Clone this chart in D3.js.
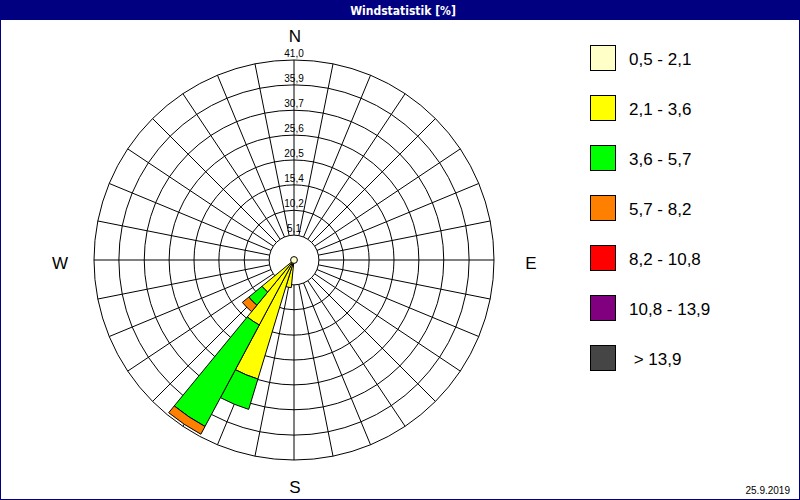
<!DOCTYPE html>
<html>
<head>
<meta charset="utf-8">
<script src="https://cdn.jsdelivr.net/npm/d3@7"></script>
<style>
  body { margin: 0; background: #fff; }
  svg { display: block; }
</style>
</head>
<body>
<svg id="chart" width="800" height="500"></svg>
<script>
// sectors (bearing of sector centre, 32 directions) that carry wind
const sectorDeg = [191.25, 202.5, 213.75, 225];
const sectorWidth = 11.25;

// percent per speed class and sector
const cls1 = [0.5, 0.5, 0.5, 0.5];   // 0,5 - 2,1
const cls2 = [5.2, 25.0, 14.6, 8.0]; // 2,1 - 3,6
const cls3 = [0, 6.5, 23.6, 3.5];    // 3,6 - 5,7
const cls4 = [0, 0, 1.8, 1.7];       // 5,7 - 8,2
const cls5 = [0, 0, 0, 0];           // 8,2 - 10,8
const cls6 = [0, 0, 0, 0];           // 10,8 - 13,9
const cls7 = [0, 0, 0, 0];           // > 13,9
const calm = 0.7;

const classLabels = ["0,5 - 2,1", "2,1 - 3,6", "3,6 - 5,7", "5,7 - 8,2", "8,2 - 10,8", "10,8 - 13,9", " > 13,9"];
const classColors = ["#ffffc8", "#ffff00", "#00ff00", "#ff8000", "#ff0000", "#800080", "#454545"];

const ringTicks = [5.1, 10.2, 15.4, 20.5, 25.6, 30.7, 35.9, 41.0];
const compass = [["N", 0], ["E", 90], ["S", 180], ["W", 270]];

const svg = d3.select("#chart");
const cx = 294, cy = 260, R = 200;
const font = "'Liberation Sans', Arial, sans-serif";

// frame and title bar
svg.append("rect").attr("x", 0.5).attr("y", 0.5).attr("width", 799).attr("height", 499)
  .attr("fill", "#fff").attr("stroke", "#000080");
svg.append("rect").attr("x", 0).attr("y", 0).attr("width", 800).attr("height", 20).attr("fill", "#000080");
svg.append("text").attr("x", 403).attr("y", 15).attr("text-anchor", "middle")
  .attr("fill", "#fff").attr("font-family", "'Liberation Sans Narrow', 'DejaVu Sans Condensed', sans-serif")
  .attr("font-weight", "bold").attr("font-size", 12).text("Windstatistik [%]");

let r = d3.scaleLinear().domain([0, 41]).range([0, R]);
let rose = svg.append("g").attr("transform", `translate(${cx},${cy})`);

// grid
let r0 = r(ringTicks[0]);
rose.selectAll("line.spoke").data(d3.range(0, 360, sectorWidth)).join("line")
  .attr("class", "spoke")
  .attr("x1", d => r0 * Math.sin(d * Math.PI / 180))
  .attr("y1", d => -r0 * Math.cos(d * Math.PI / 180))
  .attr("x2", d => R * Math.sin(d * Math.PI / 180))
  .attr("y2", d => -R * Math.cos(d * Math.PI / 180))
  .attr("stroke", "#000").attr("stroke-width", 1);
rose.selectAll("circle.ring").data(ringTicks).join("circle")
  .attr("class", "ring").attr("r", d => r(d))
  .attr("fill", "none").attr("stroke", "#000").attr("stroke-width", 1);

// wedges
let classes = [cls1, cls2, cls3, cls4, cls5, cls6, cls7];
let arc = d3.arc();
sectorDeg.forEach((deg, i) => {
  let acc = 0;
  classes.forEach((cls, k) => {
    let v = cls[i];
    if (!v) return;
    let a0 = (deg - sectorWidth / 2) * Math.PI / 180;
    let a1 = (deg + sectorWidth / 2) * Math.PI / 180;
    rose.append("path")
      .attr("d", arc({ innerRadius: r(acc), outerRadius: r(acc + v), startAngle: a0, endAngle: a1 }))
      .attr("fill", classColors[k]).attr("stroke", "#000").attr("stroke-width", 1);
    acc += v;
  });
});
rose.append("circle").attr("r", r(calm)).attr("fill", classColors[0]).attr("stroke", "#000");

// ring labels
rose.selectAll("text.tick").data(ringTicks).join("text")
  .attr("class", "tick").attr("x", 0).attr("y", d => -r(d) - 3)
  .attr("text-anchor", "middle").attr("font-family", font).attr("font-size", 10)
  .text(d => d.toFixed(1).replace(".", ","));

// compass labels
let off = { N: [1, -218], S: [1, 233], W: [-234, 9], E: [237, 9] };
rose.selectAll("text.dir").data(compass).join("text")
  .attr("class", "dir")
  .attr("x", d => off[d[0]][0]).attr("y", d => off[d[0]][1])
  .attr("text-anchor", "middle").attr("font-family", font).attr("font-size", 17)
  .text(d => d[0]);

// legend
let legend = svg.append("g").attr("transform", "translate(590,45)");
let item = legend.selectAll("g").data(classLabels).join("g")
  .attr("transform", (d, i) => `translate(0,${i * 50})`);
item.append("rect").attr("x", 0.5).attr("y", 0.5).attr("width", 25).attr("height", 25)
  .attr("fill", (d, i) => classColors[i]).attr("stroke", "#000");
item.append("text").attr("x", 39).attr("y", 20)
  .attr("font-family", font).attr("font-size", 17).attr("xml:space", "preserve")
  .style("white-space", "pre").text(d => d);

svg.append("text").attr("x", 790).attr("y", 494).attr("text-anchor", "end")
  .attr("font-family", font).attr("font-size", 10).text("25.9.2019");
</script>
</body>
</html>
